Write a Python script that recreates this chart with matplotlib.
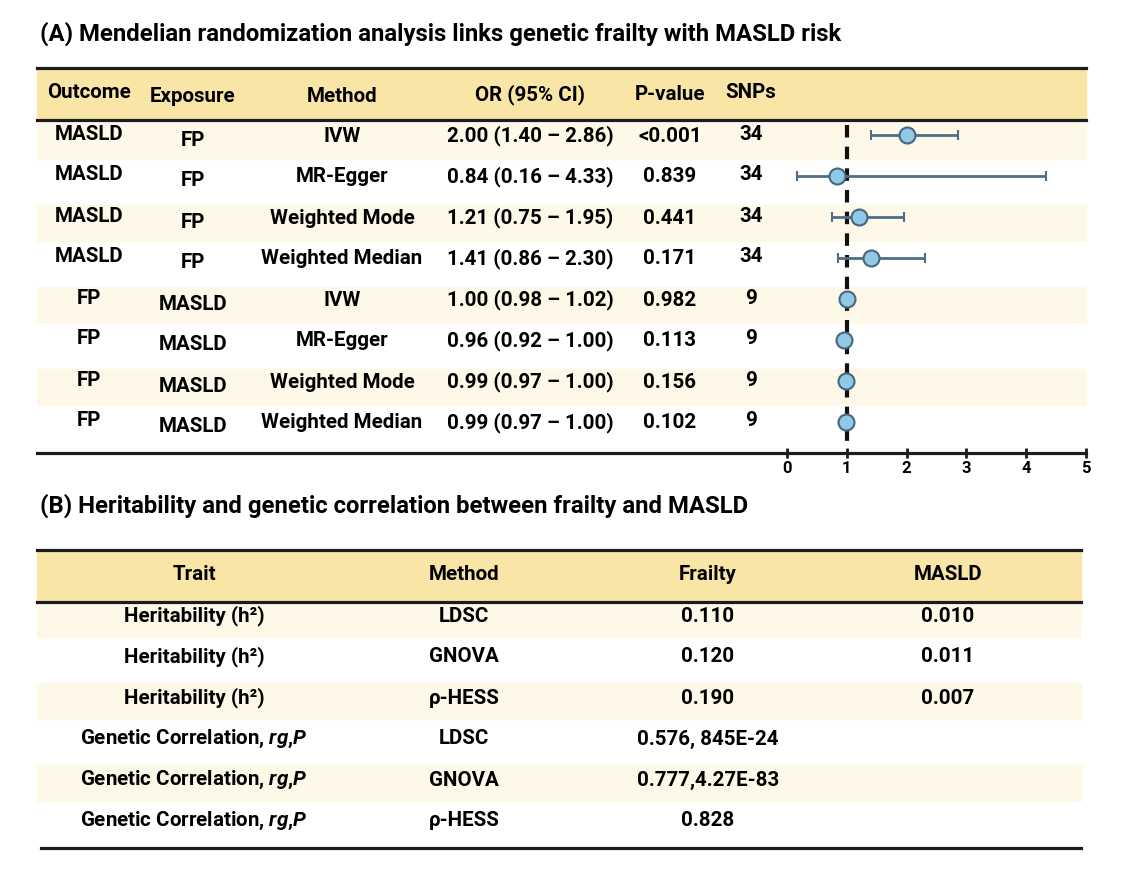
import matplotlib
matplotlib.use('Agg')
import matplotlib.pyplot as plt
from matplotlib.patches import Rectangle

plt.rcParams['font.family'] = ['Roboto', 'DejaVu Sans']
plt.rcParams['font.weight'] = 'bold'
plt.rcParams['mathtext.fontset'] = 'custom'
plt.rcParams['mathtext.rm'] = 'Roboto:bold'
plt.rcParams['mathtext.it'] = 'Roboto:italic:bold'

# ---- panel A data ----
outcome = ['MASLD', 'MASLD', 'MASLD', 'MASLD', 'FP', 'FP', 'FP', 'FP']
exposure = ['FP', 'FP', 'FP', 'FP', 'MASLD', 'MASLD', 'MASLD', 'MASLD']
method_a = ['IVW', 'MR-Egger', 'Weighted Mode', 'Weighted Median',
            'IVW', 'MR-Egger', 'Weighted Mode', 'Weighted Median']
or_val = [2.00, 0.84, 1.21, 1.41, 1.00, 0.96, 0.99, 0.99]
ci_lo = [1.40, 0.16, 0.75, 0.86, 0.98, 0.92, 0.97, 0.97]
ci_hi = [2.86, 4.33, 1.95, 2.30, 1.02, 1.00, 1.00, 1.00]
p_txt = ['<0.001', '0.839', '0.441', '0.171', '0.982', '0.113', '0.156', '0.102']
snps = [34, 34, 34, 34, 9, 9, 9, 9]
head_a = ['Outcome', 'Exposure', 'Method', 'OR (95% CI)', 'P-value', 'SNPs']

# ---- panel B data ----
trait = ['Heritability (h\u00b2)'] * 3 + [r'Genetic Correlation, $\mathit{rg{,}P}$'] * 3
method_b = ['LDSC', 'GNOVA', '\u03c1-HESS', 'LDSC', 'GNOVA', '\u03c1-HESS']
frailty = ['0.110', '0.120', '0.190', '0.576, 845E-24', '0.777,4.27E-83', '0.828']
masld = ['0.010', '0.011', '0.007', '', '', '']
head_b = ['Trait', 'Method', 'Frailty', 'MASLD']

YEL = '#F9E6A6'
CREAM = '#FEF8E8'
LINE = '#1c1c1c'
FS = 14.8

fig = plt.figure(figsize=(11.27, 8.92), dpi=100)
ax = fig.add_axes([0, 0, 1, 1])
ax.set_xlim(0, 1127)
ax.set_ylim(892, 0)
ax.axis('off')

# ---------------- panel A ----------------
ax.text(40, 34, '(A) Mendelian randomization analysis links genetic frailty with MASLD risk',
        fontsize=17.2, va='center', ha='left')
ax.add_patch(Rectangle((37, 69), 1049, 51, color=YEL, zorder=1))
ax.plot([37, 1086], [68, 68], color=LINE, lw=2.3, zorder=3)
ax.plot([37, 1086], [120, 120], color=LINE, lw=2.3, zorder=3)
ax.plot([37, 787], [453, 453], color=LINE, lw=2.3, zorder=3)

col_x = [89, 193, 342, 530, 670, 751]
head_dy = [-1, 3, 2, 1, 1, -2]
for x, h, d in zip(col_x, head_a, head_dy):
    ax.text(x, 94 + d, h, fontsize=FS, ha='center', va='center', zorder=4)

row_dy = [-1, 5, 1, 1, 1, -1]
for i in range(len(outcome)):
    yc = 135 + 41 * i
    if i % 2 == 0:
        ax.add_patch(Rectangle((37, yc - 12), 1049, 36, color=CREAM, zorder=1))
    or_txt = f'{or_val[i]:.2f} ({ci_lo[i]:.2f} \u2013 {ci_hi[i]:.2f})'
    vals = [outcome[i], exposure[i], method_a[i], or_txt, p_txt[i], str(snps[i])]
    for x, v, d in zip(col_x, vals, row_dy):
        ax.text(x, yc + d, v, fontsize=FS, ha='center', va='center', zorder=4)

# forest plot
fax = fig.add_axes([787 / 1127, (892 - 453) / 892, (1086 - 787) / 1127, (453 - 122) / 892])
fax.patch.set_alpha(0)
rows = list(range(len(or_val)))
fax.plot([1, 1], [-0.24, 7.68], color='#111111', lw=3, ls=(0, (3, 2.2)), zorder=2)
err = [[o - l for o, l in zip(or_val, ci_lo)], [h - o for o, h in zip(or_val, ci_hi)]]
fax.errorbar(or_val, rows, xerr=err, fmt='o', ms=11.5, mfc='#8FC9E6', mec='#46677D', mew=1.5,
             ecolor='#4F6E84', elinewidth=2, capsize=3.5, capthick=1.5, zorder=3)
fax.set_xlim(0, 5)
fax.set_ylim(7.756, -0.317)
for s in ['top', 'left', 'right']:
    fax.spines[s].set_visible(False)
fax.spines['bottom'].set_linewidth(2.3)
fax.spines['bottom'].set_color(LINE)
fax.set_yticks([])
fax.set_xticks(range(6))
fax.tick_params(axis='x', direction='inout', length=7, width=2, color=LINE, labelsize=12, pad=2)

# ---------------- panel B ----------------
ax.text(40, 506, '(B) Heritability and genetic correlation between frailty and MASLD',
        fontsize=17.2, va='center', ha='left')
ax.add_patch(Rectangle((37, 551), 1044, 50, color=YEL, zorder=1))
ax.plot([37, 1081], [550, 550], color=LINE, lw=2.3, zorder=3)
ax.plot([37, 1081], [602, 602], color=LINE, lw=2.3, zorder=3)
ax.plot([41, 1081], [848, 848], color=LINE, lw=2.3, zorder=3)

colb_x = [194, 464, 708, 948]
for x, h in zip(colb_x, head_b):
    ax.text(x, 575, h, fontsize=FS, ha='center', va='center', zorder=4)

for i in range(len(trait)):
    yc = 616 + 41 * i
    if i % 2 == 0:
        ax.add_patch(Rectangle((37, yc - 15), 1044, 36, color=CREAM, zorder=1))
    vals = [trait[i], method_b[i], frailty[i], masld[i]]
    for x, v in zip(colb_x, vals):
        ax.text(x, yc, v, fontsize=FS, ha='center', va='center', zorder=4)

fig.savefig('out.png', dpi=100)
